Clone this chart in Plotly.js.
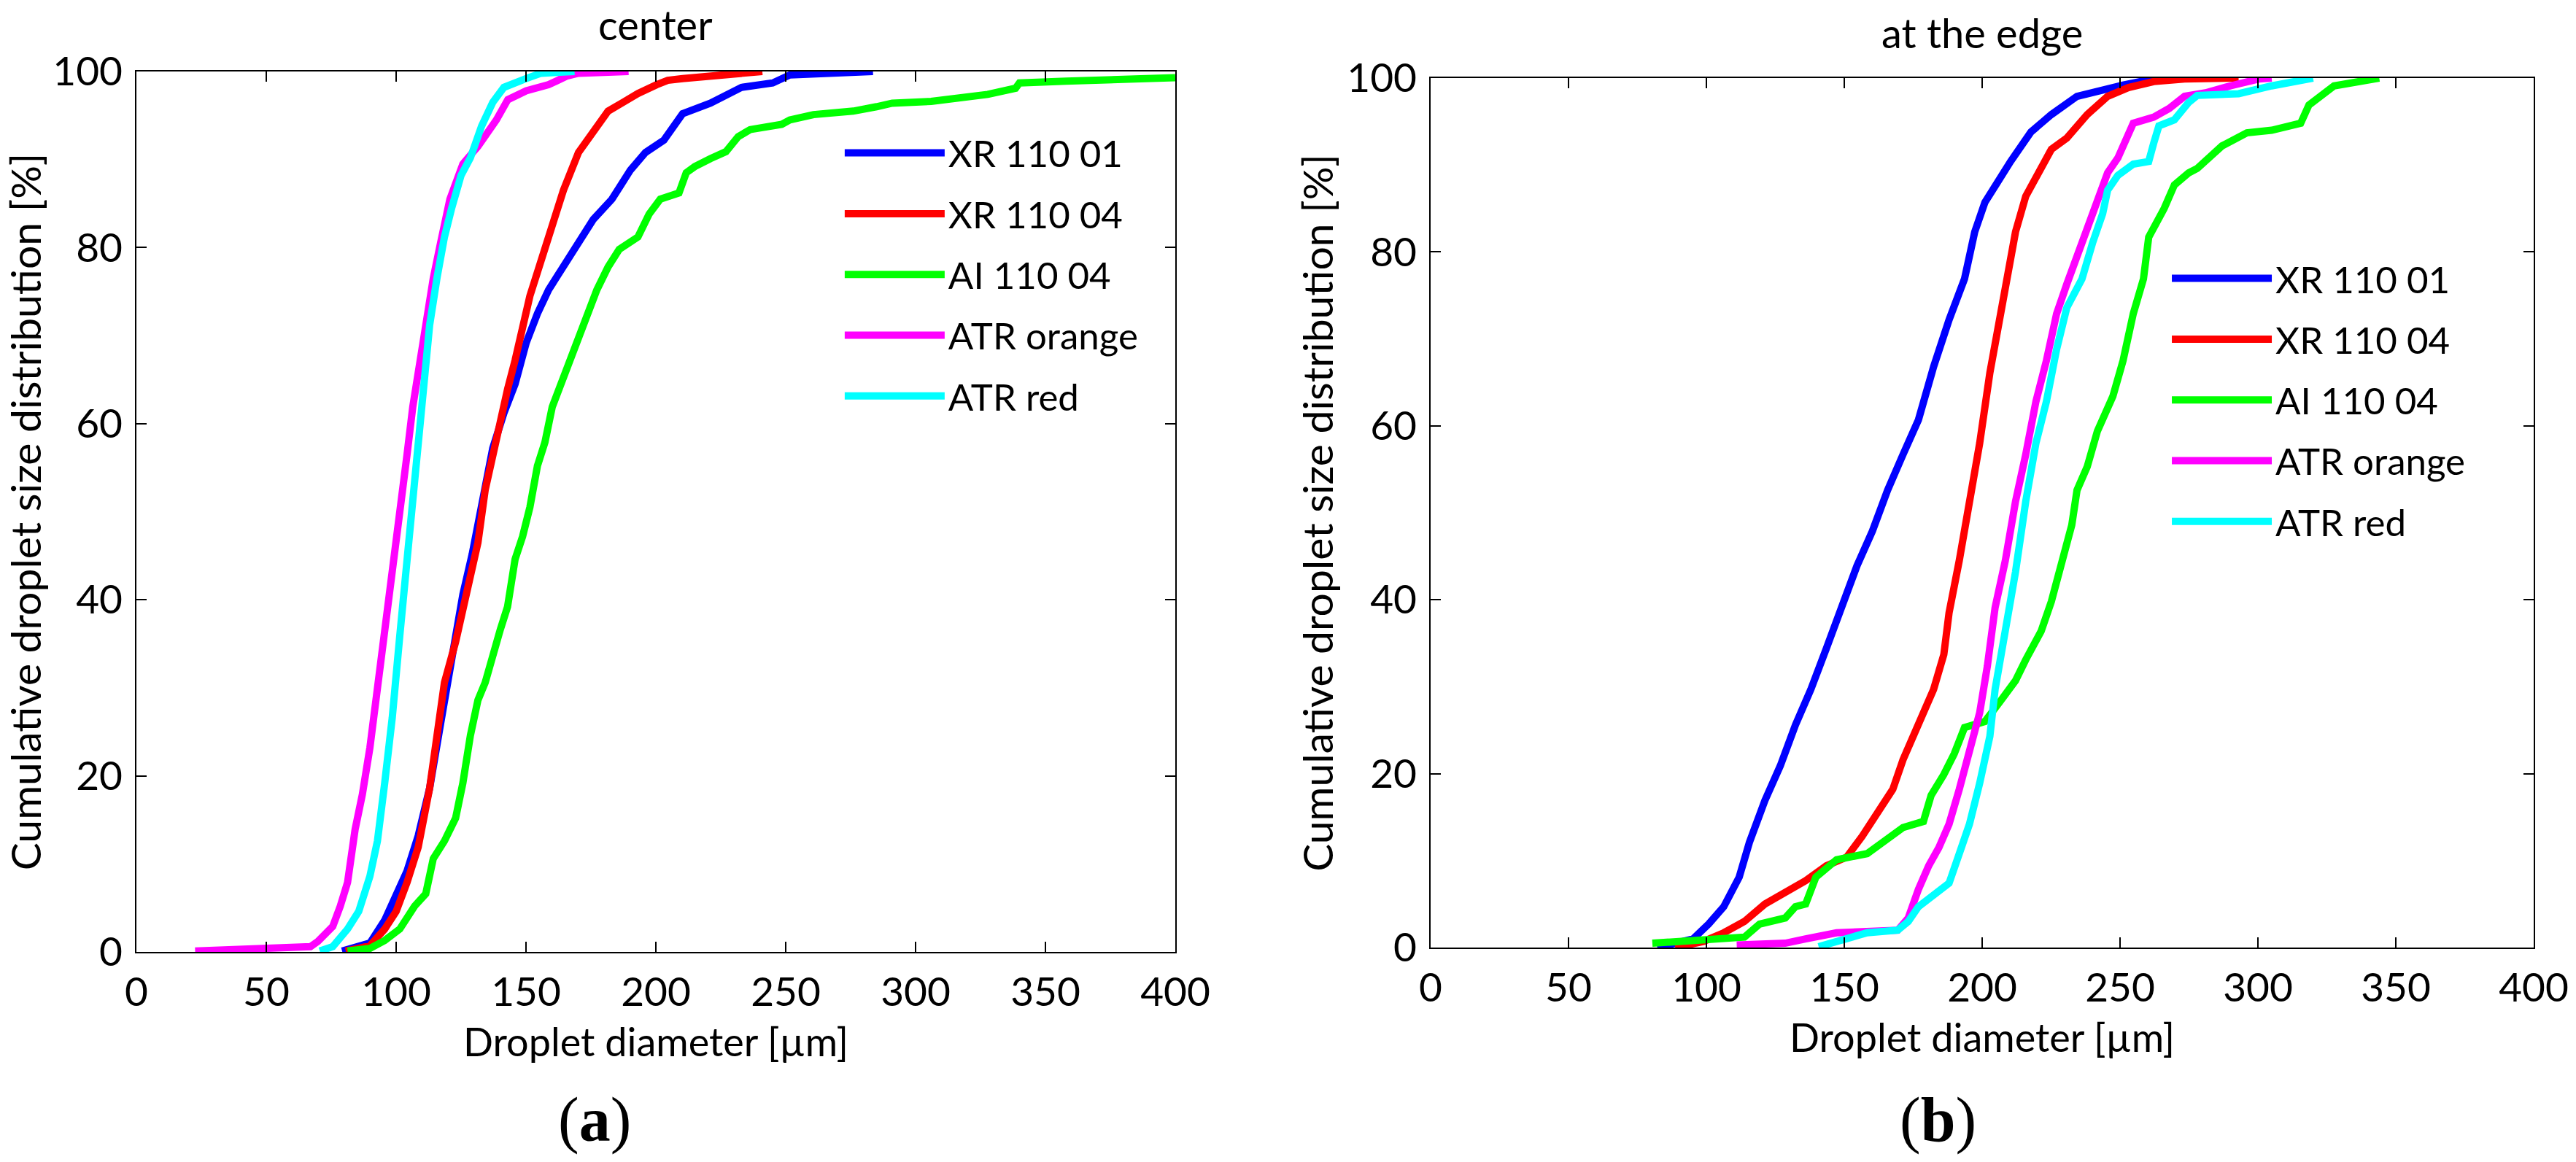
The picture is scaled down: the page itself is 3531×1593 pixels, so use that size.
<!DOCTYPE html>
<html>
<head>
<meta charset="utf-8">
<script src="https://cdn.plot.ly/plotly-3.0.1.min.js"></script>
<style>html,body{margin:0;padding:0;background:#fff;}#chart{width:3531px;height:1593px;}</style>
</head>
<body>
<div id="chart"></div>
<script>
// ---------- Data (droplet diameter [µm], cumulative distribution [%]) ----------
const seriesNames = ["XR 110 01", "XR 110 04", "AI 110 04", "ATR orange", "ATR red"];
const seriesColors = ["#0000FF", "#FF0000", "#00FF00", "#FF00FF", "#00FFFF"];
const xTicks = [0, 50, 100, 150, 200, 250, 300, 350, 400];
const yTicks = [0, 20, 40, 60, 80, 100];

// (a) center
const centerXR01_d = [79.2, 89.9, 95.6, 100, 104.2, 108.5, 112.9, 117.1, 121.4, 125.7, 129.3, 132.9, 137.2, 141.5, 145.8, 150.1, 154.4, 158.7, 164.4, 170.2, 175.9, 183.1, 190.2, 196, 203.1, 210.3, 221, 233, 245, 251.6, 266.8, 283.6];
const centerXR01_p = [0.1, 1.0, 3.6, 6.6, 9.2, 13.2, 18.6, 25.9, 33.2, 40.6, 45.2, 50.5, 57.2, 61.2, 64.5, 69.2, 72.5, 75.2, 77.9, 80.8, 83.2, 85.5, 88.8, 90.8, 92.2, 95.2, 96.4, 98.2, 98.7, 99.6, 99.7, 100];
const centerXR04_d = [80.6, 89.9, 95.6, 100, 104.2, 108.5, 112.9, 115.7, 118.6, 122.9, 127.2, 131.5, 134.3, 137.2, 140.1, 142.9, 145.8, 148.7, 151.5, 155.8, 160.1, 164.4, 170.2, 175.9, 181.6, 187.4, 193.1, 200.3, 204.6, 210.3, 221, 230, 241];
const centerXR04_p = [0.1, 0.7, 2.6, 4.6, 7.9, 11.9, 18.6, 24.6, 30.6, 35.2, 40.6, 46.5, 52.5, 56.5, 60.5, 63.9, 67.2, 71.2, 74.5, 78.5, 82.5, 86.5, 90.8, 93.2, 95.5, 96.5, 97.5, 98.5, 99.0, 99.2, 99.5, 99.8, 100];
const centerAI04_d = [81.3, 89.9, 95.6, 101.4, 107.1, 111.4, 114.3, 118.6, 122.9, 125.7, 128.6, 131.5, 134.3, 137.2, 140.1, 142.9, 145.8, 148.7, 151.5, 154.4, 157.3, 160.1, 164.4, 168.7, 173.0, 177.3, 181.6, 185.9, 193.1, 197.4, 201.7, 208.9, 211.7, 215, 221, 227, 231.7, 236.3, 248.5, 251.6, 260.7, 276, 285, 291, 306, 318.6, 327.8, 338.5, 340, 358, 379.6, 400];
const centerAI04_p = [0.1, 0.4, 1.3, 2.6, 5.2, 6.6, 10.6, 12.6, 15.2, 19.2, 24.6, 28.6, 30.6, 33.9, 36.6, 39.2, 44.6, 47.2, 50.5, 55.2, 57.9, 61.9, 65.2, 68.5, 71.9, 75.2, 77.8, 79.8, 81.2, 83.8, 85.5, 86.2, 88.5, 89.2, 90.1, 90.9, 92.6, 93.4, 94.0, 94.5, 95.1, 95.5, 96.0, 96.4, 96.6, 97.0, 97.4, 98.1, 98.7, 98.9, 99.2, 99.3];
const centerATRo_d = [22.6, 52.7, 67, 69.9, 75.6, 78.5, 81.3, 84.2, 87, 89.9, 92.8, 95.6, 98.5, 100.7, 102.8, 104.2, 106.4, 108.5, 111.4, 114.3, 117.1, 120.7, 125.7, 131.5, 138.6, 143, 150.1, 158.7, 165.9, 170.2, 189.5];
const centerATRo_p = [0.1, 0.3, 0.6, 1.2, 2.9, 5.2, 7.9, 13.9, 17.9, 23.2, 29.9, 35.9, 41.9, 47.2, 52.5, 56.5, 61.9, 65.9, 71.2, 76.5, 80.5, 85.5, 89.5, 91.5, 94.5, 96.8, 97.8, 98.5, 99.5, 99.8, 100];
const centerATRr_d = [70.6, 75.6, 81.3, 85.6, 89.9, 92.8, 95.6, 98.5, 101.4, 104.2, 106.4, 108.5, 110.7, 112.9, 115.7, 118.6, 121.4, 125.0, 128.6, 132.9, 137.2, 141.5, 150.1, 155.8, 168.7];
const centerATRr_p = [0.1, 0.6, 2.6, 4.6, 8.6, 12.6, 19.2, 26.6, 35.9, 44.5, 52.5, 57.9, 65.9, 71.2, 76.5, 81.2, 84.5, 88.2, 90.2, 93.8, 96.5, 98.2, 99.2, 99.8, 100];

// (b) at the edge
const edgeXR01_d = [82.2, 95.2, 100.8, 106.3, 111.9, 115.6, 121.2, 126.8, 132.3, 137.9, 143.5, 149.0, 154.6, 160.2, 165.7, 171.3, 176.9, 182.4, 188.0, 193.6, 197.3, 201.0, 204.7, 210.3, 217.7, 225.1, 234.4, 243.7, 251.1, 262.2, 270];
const edgeXR01_p = [0, 1.0, 2.7, 4.7, 8.1, 12.1, 16.9, 20.9, 25.6, 29.7, 34.4, 39.1, 43.9, 47.9, 52.6, 56.7, 60.7, 66.8, 72.2, 76.9, 82.3, 85.7, 87.7, 90.4, 93.8, 95.8, 97.9, 98.7, 99.2, 99.9, 100];
const edgeXR04_d = [88.7, 98.9, 106.3, 113.8, 121.2, 128.6, 136.0, 143.5, 150.9, 156.5, 162.0, 167.6, 171.3, 176.9, 182.4, 186.1, 188.0, 191.7, 195.4, 199.1, 202.8, 206.5, 209.3, 212.1, 215.8, 219.5, 225.1, 230.7, 238.1, 245.5, 253.0, 262.2, 273.4, 293];
const edgeXR04_p = [0, 0.7, 1.7, 3.0, 5.0, 6.4, 7.7, 9.4, 10.4, 12.8, 15.5, 18.2, 21.6, 25.6, 29.7, 33.7, 38.5, 44.5, 51.3, 58.0, 66.1, 72.2, 76.9, 82.3, 86.4, 88.4, 91.8, 93.1, 95.8, 97.9, 98.9, 99.6, 99.9, 100];
const edgeAI04_d = [80.4, 95.2, 113.8, 119.3, 128.6, 132.3, 136.0, 139.7, 147.2, 158.3, 165.7, 171.3, 178.7, 181.5, 186.1, 189.9, 193.6, 201.0, 206.5, 212.1, 215.8, 221.4, 225.1, 228.8, 232.5, 234.4, 238.1, 241.8, 247.4, 251.1, 254.8, 258.5, 260.4, 266.0, 269.7, 274.9, 278, 287, 296, 305, 315.5, 318.5, 327.6, 344];
const edgeAI04_p = [0.5, 0.8, 1.2, 2.7, 3.4, 4.7, 5.0, 8.1, 10.1, 10.8, 12.5, 13.8, 14.5, 17.5, 19.9, 22.3, 25.3, 26.0, 28.3, 30.7, 33.1, 36.4, 39.8, 44.5, 48.6, 52.6, 55.3, 59.4, 63.4, 67.5, 72.9, 76.9, 81.7, 85.0, 87.7, 89.1, 89.6, 92.2, 93.7, 94.0, 94.8, 96.9, 99.1, 100];
const edgeATRo_d = [111.0, 128.6, 136.0, 147.2, 169.4, 173.2, 176.9, 180.6, 184.3, 188.0, 191.7, 195.4, 199.1, 201.9, 204.7, 208.4, 212.1, 215.8, 219.5, 223.3, 227.0, 230.7, 234.4, 238.1, 241.8, 245.5, 249.2, 253.0, 254.8, 262.2, 267.8, 273.4, 281, 290, 300.5, 305];
const edgeATRo_p = [0.3, 0.5, 1.0, 1.7, 2.0, 3.4, 6.7, 9.4, 11.5, 14.2, 18.2, 22.3, 27.0, 32.4, 39.1, 44.5, 51.3, 56.7, 62.8, 67.5, 72.9, 76.3, 79.6, 83.0, 86.4, 89.1, 90.8, 93.8, 94.8, 95.5, 96.5, 97.9, 98.3, 99.1, 99.9, 100];
const edgeATRr_d = [140.7, 150.9, 158.3, 169.4, 173.2, 176.9, 182.4, 188.0, 191.7, 195.4, 199.1, 202.8, 204.7, 208.4, 212.1, 215.8, 219.5, 223.3, 227.0, 230.7, 236.2, 240.0, 243.7, 245.5, 249.2, 254.8, 260.4, 262.2, 264.1, 269.7, 274.9, 278, 293, 305, 320];
const edgeATRr_p = [0.1, 1.0, 1.7, 2.0, 3.0, 4.7, 6.1, 7.4, 10.8, 14.2, 18.9, 24.3, 29.7, 36.4, 43.2, 51.3, 58.0, 62.8, 68.8, 73.6, 76.9, 81.0, 84.4, 87.1, 88.8, 90.1, 90.4, 92.5, 94.5, 95.2, 97.2, 98.0, 98.2, 99.1, 100];

// ---------- Build traces ----------
const centerData = [[centerXR01_d, centerXR01_p], [centerXR04_d, centerXR04_p], [centerAI04_d, centerAI04_p], [centerATRo_d, centerATRo_p], [centerATRr_d, centerATRr_p]];
const edgeData = [[edgeXR01_d, edgeXR01_p], [edgeXR04_d, edgeXR04_p], [edgeAI04_d, edgeAI04_p], [edgeATRo_d, edgeATRo_p], [edgeATRr_d, edgeATRr_p]];

const FONT = "Lato, 'Open Sans', sans-serif";
const traces = [];
centerData.forEach((s, i) => traces.push({
  x: s[0], y: s[1], type: "scatter", mode: "lines", name: seriesNames[i],
  line: {color: seriesColors[i], width: 10}, xaxis: "x", yaxis: "y",
  legend: "legend", legendgroup: "a" + i
}));
edgeData.forEach((s, i) => traces.push({
  x: s[0], y: s[1], type: "scatter", mode: "lines", name: seriesNames[i],
  line: {color: seriesColors[i], width: 10}, xaxis: "x2", yaxis: "y2",
  legend: "legend2", legendgroup: "b" + i
}));

function xAxis(domain, anchor) {
  return {
    domain: domain, anchor: anchor, range: [0, 400], tickvals: xTicks, ticktext: xTicks.map(String),
    ticks: "inside", ticklen: 14, tickwidth: 2, tickcolor: "#000",
    showline: true, linecolor: "#000", linewidth: 2, mirror: "ticks",
    showgrid: false, zeroline: false, ticklabelstandoff: 6,
    tickfont: {family: FONT, size: 55, color: "#000"},
    title: {text: "Droplet diameter [µm]", font: {family: FONT, size: 54, color: "#000"}, standoff: 20}
  };
}
function yAxis(domain, anchor) {
  return {
    domain: domain, anchor: anchor, range: [0, 100], tickvals: yTicks, ticktext: yTicks.map(String),
    ticks: "inside", ticklen: 14, tickwidth: 2, tickcolor: "#000",
    showline: true, linecolor: "#000", linewidth: 2, mirror: "ticks",
    showgrid: false, zeroline: false, ticklabelstandoff: 6,
    tickfont: {family: FONT, size: 55, color: "#000"},
    title: {text: "Cumulative droplet size distribution [%]", font: {family: FONT, size: 57, color: "#000"}, standoff: 0}
  };
}

const legendBase = {
  font: {family: FONT, size: 51, color: "#000"}, bgcolor: "rgba(0,0,0,0)", borderwidth: 0,
  itemwidth: 137, tracegroupgap: 14, traceorder: "grouped", yanchor: "middle", xanchor: "left"
};

const layout = {
  width: 3531, height: 1593,
  margin: {l: 0, r: 0, t: 0, b: 0},
  paper_bgcolor: "#fff", plot_bgcolor: "#fff",
  showlegend: true,
  xaxis: xAxis([0.05296, 0.45624], "y"),
  yaxis: yAxis([0.18079, 0.93848], "x"),
  xaxis2: xAxis([0.55537, 0.98357], "y2"),
  yaxis2: yAxis([0.18456, 0.93283], "x2"),
  legend: Object.assign({}, legendBase, {x: 0.3265, y: 0.7637}),
  legend2: Object.assign({}, legendBase, {x: 0.8417, y: 0.6557}),
  annotations: [
    {text: "center", xref: "paper", yref: "paper", x: 0.2546, y: 0.979, xanchor: "center", yanchor: "middle", showarrow: false, font: {family: FONT, size: 56, color: "#000"}},
    {text: "at the edge", xref: "paper", yref: "paper", x: 0.7695, y: 0.9718, xanchor: "center", yanchor: "middle", showarrow: false, font: {family: FONT, size: 56, color: "#000"}},
    {text: "(<b>a</b>)", xref: "paper", yref: "paper", x: 0.2308, y: 0.0364, xanchor: "center", yanchor: "middle", showarrow: false, font: {family: "'Liberation Serif', 'DejaVu Serif', serif", size: 86, color: "#000"}},
    {text: "(<b>b</b>)", xref: "paper", yref: "paper", x: 0.7522, y: 0.0364, xanchor: "center", yanchor: "middle", showarrow: false, font: {family: "'Liberation Serif', 'DejaVu Serif', serif", size: 86, color: "#000"}}
  ]
};

Plotly.newPlot("chart", traces, layout, {staticPlot: true, displayModeBar: false});
</script>
</body>
</html>
